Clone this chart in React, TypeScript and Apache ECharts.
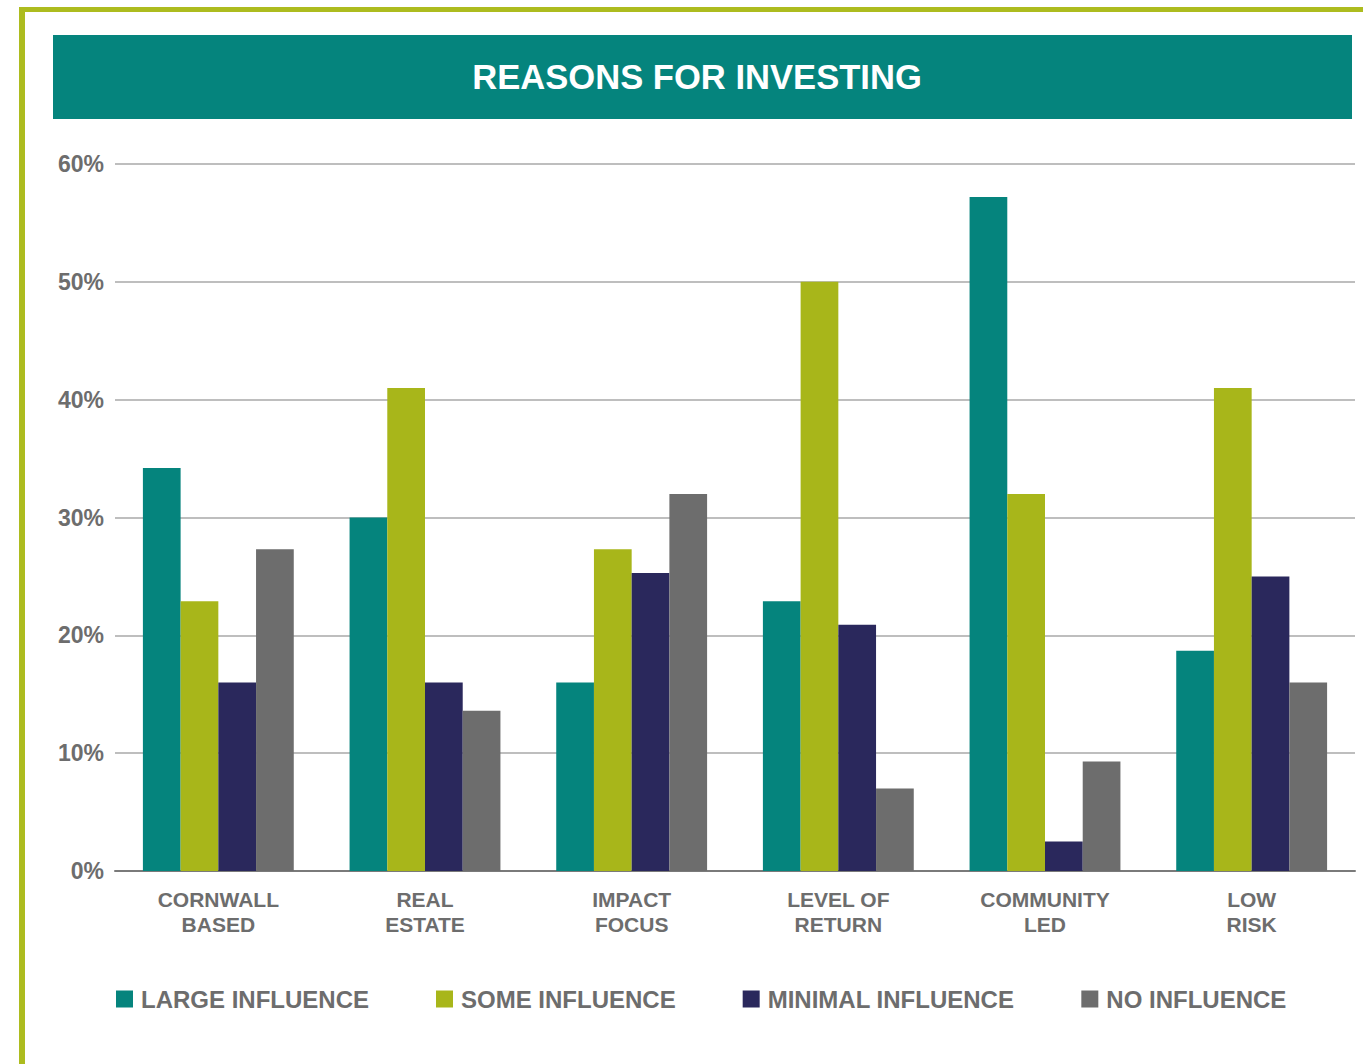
import React, { useEffect, useRef } from "react";
import * as echarts from "echarts";

// Survey answers, percent of respondents
const categories = ["CORNWALL\nBASED", "REAL\nESTATE", "IMPACT\nFOCUS", "LEVEL OF\nRETURN", "COMMUNITY\nLED", "LOW\nRISK"];
const largeInfluence = [34.2, 30, 16, 22.9, 57.2, 18.7];
const someInfluence = [22.9, 41, 27.3, 50, 32, 41];
const minimalInfluence = [16, 16, 25.3, 20.9, 2.5, 25];
const noInfluence = [27.3, 13.6, 32, 7, 9.3, 16];
const seriesNames = ["LARGE INFLUENCE", "SOME INFLUENCE", "MINIMAL INFLUENCE", "NO INFLUENCE"];
const seriesColors = ["#05847d", "#a8b61a", "#2a285c", "#6d6d6d"];

const FONT = "'Liberation Sans', Arial, Helvetica, sans-serif";
const TEXT_GREY = "#6d6d6d";

export default function App() {
  const ref = useRef<HTMLDivElement>(null);

  useEffect(() => {
    if (!ref.current) return;
    const chart = echarts.init(ref.current, null, { renderer: "svg" });
    const values = [largeInfluence, someInfluence, minimalInfluence, noInfluence];
    chart.setOption({
      animation: false,
      backgroundColor: "#ffffff",
      textStyle: { fontFamily: FONT },
      graphic: [
        // frame lines along the top and left
        { type: "rect", shape: { x: 19, y: 7, width: 1344, height: 5 }, style: { fill: "#adbc1f" }, silent: true },
        { type: "rect", shape: { x: 19, y: 7, width: 6, height: 1057 }, style: { fill: "#adbc1f" }, silent: true },
        // title banner
        { type: "rect", shape: { x: 53, y: 35, width: 1299, height: 84 }, style: { fill: "#05847d" }, silent: true },
        {
          type: "text",
          x: 697,
          y: 77,
          style: {
            text: "REASONS FOR INVESTING",
            fill: "#ffffff",
            font: `bold 34.6px ${FONT}`,
            textAlign: "center",
            textVerticalAlign: "middle",
          },
          silent: true,
        },
      ],
      legend: {
        data: seriesNames,
        left: 116,
        top: 987,
        padding: 0,
        itemWidth: 17,
        itemHeight: 17,
        itemGap: 67,
        icon: "rect",
        textStyle: { color: TEXT_GREY, fontSize: 24, fontWeight: "bold", fontFamily: FONT, padding: [0, 0, 0, 3] },
      },
      grid: { left: 115, right: 8, top: 164, bottom: 193, containLabel: false },
      xAxis: {
        type: "category",
        data: categories,
        axisLine: { show: true, lineStyle: { color: "#7a7a7a", width: 2 } },
        axisTick: { show: false },
        axisLabel: {
          color: TEXT_GREY,
          fontSize: 21,
          fontWeight: "bold",
          fontFamily: FONT,
          lineHeight: 25,
          margin: 16,
        },
      },
      yAxis: {
        type: "value",
        min: 0,
        max: 60,
        interval: 10,
        axisLine: { show: false },
        axisTick: { show: false },
        splitLine: { lineStyle: { color: "#a8a8a8", width: 1.5 } },
        axisLabel: {
          formatter: "{value}%",
          color: TEXT_GREY,
          fontSize: 23,
          fontWeight: "bold",
          fontFamily: FONT,
          margin: 11,
        },
      },
      series: seriesNames.map((name, i) => ({
        name,
        type: "bar",
        data: values[i],
        barGap: "0%",
        barCategoryGap: "27%",
        itemStyle: { color: seriesColors[i] },
      })),
    });
    return () => chart.dispose();
  }, []);

  return (
    <div
      ref={ref}
      style={{ position: "fixed", left: 0, top: 0, width: 1363, height: 1064 }}
    />
  );
}
